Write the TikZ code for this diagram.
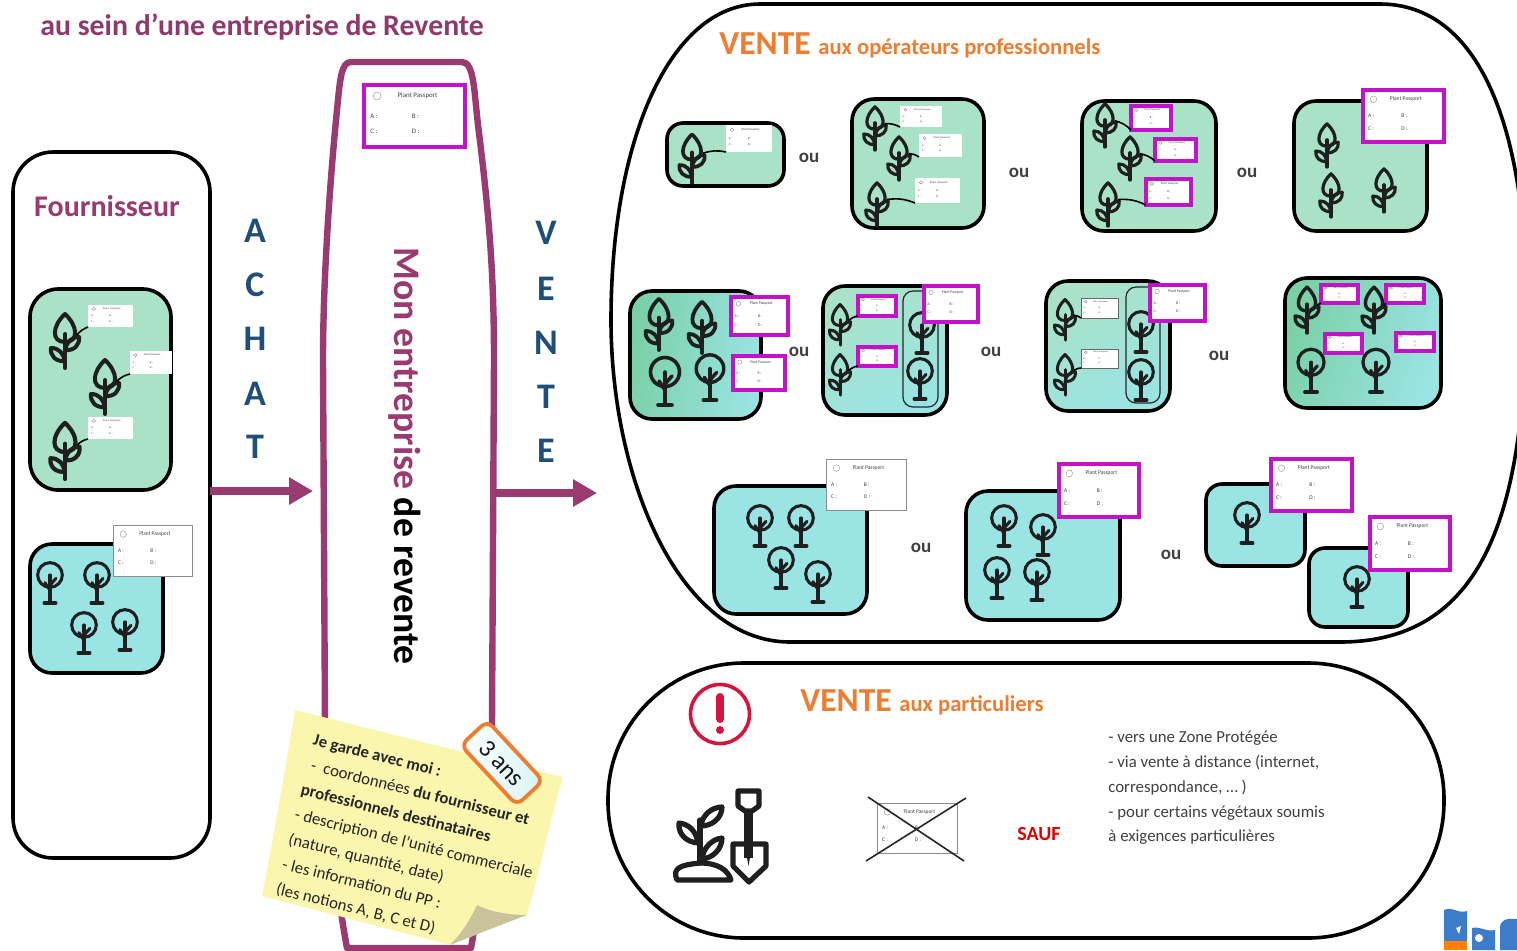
\documentclass[tikz,border=0pt]{standalone}
\usepackage{fontspec}
\setmainfont{Carlito}
\usetikzlibrary{arrows.meta,calc}
\definecolor{maroon}{HTML}{993A70}
\definecolor{titlered}{HTML}{8E3A6C}
\definecolor{achat}{HTML}{1F4E79}
\definecolor{ora}{HTML}{ED7D31}
\definecolor{gbox}{HTML}{A9E2C6}
\definecolor{tbox}{HTML}{9AE4E4}
\definecolor{dgreen}{HTML}{7AD0A6}
\definecolor{mag}{HTML}{C312C8}
\definecolor{postit}{HTML}{FBF6AE}
\definecolor{fold}{HTML}{C8C39B}
\definecolor{txt}{HTML}{404040}
\definecolor{crim}{HTML}{D7143C}
\definecolor{logob}{HTML}{3C7CCB}
\newcommand{\fsz}[2]{\fontsize{#1pt}{#2pt}\selectfont}
\tikzset{
  x=0.5pt,y=-0.5pt,
  blob/.style={draw=black,line width=1.8pt,fill=white},
  gb/.style={draw=black,line width=1.8pt,fill=gbox,rounded corners=11pt},
  tb/.style={draw=black,line width=1.8pt,fill=tbox,rounded corners=11pt},
  mixa/.style={draw=black,line width=1.8pt,rounded corners=11pt,top color=dgreen,bottom color=tbox,shading angle=80},
  mixb/.style={draw=black,line width=1.8pt,rounded corners=11pt,top color=gbox,bottom color=tbox,shading angle=30},
  mixc/.style={draw=black,line width=1.8pt,rounded corners=11pt,top color=dgreen,bottom color=tbox,shading angle=70},
  groupbox/.style={draw=black!85,line width=0.6pt,rounded corners=5pt},
  plaincard/.style={fill=white,inner sep=0,outer sep=0},
  greycard/.style={plaincard,draw=black!45,line width=.5pt},
  thincard/.style={plaincard,draw=black!60,line width=.4pt},
  magcard/.style={plaincard,draw=mag,line width=2.1pt},
  magsmall/.style={plaincard,draw=mag,line width=1.7pt},
  cardtxt/.style={transform shape,inner sep=0,text=txt,font=\fsz{3.4}{4}},
  twig/.style={draw=black,line width=.8pt},
  ouword/.style={text=txt,font=\fsz{9.5}{11}\bfseries,inner sep=0},
  letter/.style={text=achat,font=\fsz{18}{20}\bfseries,inner sep=0},
  bigarrow/.style={draw=maroon,line width=3.6pt,-{Triangle[length=12pt,width=13pt]}},
  listline/.style={text=txt,font=\fsz{8.4}{10},inner sep=0,anchor=west},
}
\newcommand{\mycard}[6]{%
  \pgfmathsetmacro{\cw}{#4-#2}\pgfmathsetmacro{\ch}{#5-#3}%
  \node[#6,minimum width=\cw*0.5pt,minimum height=\ch*0.5pt] (#1) at ({(#2+#4)/2},{(#3+#5)/2}) {};
  \begin{scope}[shift={(#1.north west)},xscale=\cw/100,yscale=\ch/62]
    \draw[black!45,line width=.2pt] (13,11) circle (4);
    \node[cardtxt] (#1t) at (53,11) {Plant Passport};
    \node[cardtxt,anchor=west] (#1a) at (6,31) {A :};
    \node[cardtxt,anchor=west] (#1b) at (47,31) {B :};
    \node[cardtxt,anchor=west] (#1c) at (6,46) {C :};
    \node[cardtxt,anchor=west] (#1d) at (47,46) {D :};
  \end{scope}}
\newcommand{\myplant}[4]{%
  \begin{scope}[shift={(#2,#3)},scale=#4,line width=#4*2pt,draw=black!88,line cap=round,line join=round]
    \draw (0,0) -- (0,-34);
    \draw (0,-26) .. controls (-14,-26) and (-13,-42) .. (0,-54) .. controls (13,-42) and (14,-26) .. (0,-26);
    \draw (0,-18) .. controls (2,-26) and (6,-31) .. (14,-31) .. controls (15,-23) and (9,-17) .. (0,-18);
    \draw (0,-7) .. controls (-2,-15) and (-6,-20) .. (-14,-20) .. controls (-15,-12) and (-9,-6) .. (0,-7);
    \coordinate (#1) at (12,-33);
  \end{scope}}
\newcommand{\mytree}[3]{%
  \begin{scope}[shift={(#1,#2)},scale=#3,line width=#3*1.8pt,draw=black!88,line cap=round,line join=round]
    \draw (0,-33) circle (14.5);
    \draw (-7,0) -- (7,0) (0,0) -- (0,-33);
    \draw (0,-21) -- (7,-29);
    \draw (0,-15) -- (-6,-24);
  \end{scope}}
\begin{document}
\begin{tikzpicture}
\useasboundingbox (0,0) rectangle (1517,950);
\fill[white] (0,0) rectangle (1517,950);

% title
\node[anchor=west,inner sep=0,text=titlered,font=\fsz{14.9}{16}\bfseries] (title) at (40,27) {au sein d’une entreprise de Revente};

% supplier column
\node[draw=black,line width=1.8pt,fill=white,rounded corners=20pt,minimum width=98.5pt,minimum height=353pt,inner sep=0,outer sep=0] (fournisseur) at (111.5,505) {};
\node[text=maroon,font=\fsz{15}{17}\bfseries,inner sep=0] (fournt) at (107,206) {Fournisseur};
\draw[gb,rounded corners=14pt] (30,289) rectangle (171,490);
\myplant{fa}{65}{368}{1}
\myplant{fb}{105}{414}{1}
\myplant{fc}{65}{479}{1.04}
\mycard{fca}{88}{305}{133}{327}{plaincard}
\mycard{fcb}{130}{351}{172}{374}{plaincard}
\mycard{fcc}{88}{417}{133}{439}{plaincard}
\draw[twig] (fa) to[bend left=15] (fca.south west);
\draw[twig] (fb) to[bend left=15] (fcb.south west);
\draw[twig] (fc) to[bend left=15] (fcc.south west);
\draw[tb] (30,544) rectangle (163,673);
\mytree{50}{603}{.85}
\mytree{97}{603}{.85}
\mytree{84}{653}{.85}
\mytree{125}{650}{.85}
\mycard{fcd}{113}{525}{192}{576}{greycard}

% company barrel
\path[draw=maroon,line width=3.2pt,line join=round] (351,62) -- (462,62) .. controls (474,62) and (474,90) .. (478,125) .. controls (490,220) and (494,280) .. (494,360) -- (492,725) .. controls (491,800) and (480,900) .. (471,948) -- (347,948) .. controls (338,900) and (325,800) .. (325,725) -- (323,360) .. controls (323,280) and (330,180) .. (337,110) .. controls (340,80) and (341,62) .. (351,62) -- cycle;
\node[minimum width=86pt,minimum height=443pt,inner sep=0,outer sep=0] (entreprise) at (409,505) {};
\node[rotate=-90,inner sep=0,font=\fsz{18.8}{20}\bfseries] (entt) at (405,456) {\textcolor{maroon}{Mon entreprise} de revente};
\mycard{eca}{364}{85}{465}{147}{magcard}

\foreach \n/\l/\yy in {a1/A/231,a2/C/285,a3/H/339,a4/A/394,a5/T/447}{\node[letter] (\n) at (255,\yy) {\l};}
\foreach \n/\l/\yy in {v1/V/233,v2/E/289,v3/N/343,v4/T/397,v5/E/451}{\node[letter] (\n) at (546,\yy) {\l};}
\coordinate (ventein) at (597,493);
\draw[bigarrow] (fournisseur.east |- 0,491) -- ([xshift=-5pt]entreprise.west |- 0,491);
\draw[bigarrow] (entreprise.east |- ventein) -- (ventein);

% note
\fill[postit] (295,710) -- (563,777) .. controls (550,820) and (540,870) .. (527,915) .. controls (500,925) and (475,935) .. (450,945) -- (262,896) .. controls (275,830) and (285,770) .. (295,710) -- cycle;
\fill[fold] (450,945) .. controls (465,930) and (472,915) .. (477,905) .. controls (490,912) and (510,915) .. (527,915) .. controls (500,925) and (475,935) .. (450,945) -- cycle;
\node[rotate=-14,anchor=north west,inner sep=0,align=left,text=black!85,font=\fsz{8.4}{12.8}] (notet) at (315,733) {%
  \textbf{Je garde avec moi :}\\
  \hspace*{2pt}-\ \ coordonnées \textbf{du fournisseur et}\\
  \textbf{professionnels destinataires}\\
  - description de l’unité commerciale\\
  (nature, quantité, date)\\
  - les information du PP :\\
  (les notions A, B, C et D)};
\node[rotate=-47,draw=ora,line width=1.9pt,left color=white,right color=tbox!40,rounded corners=4pt,minimum width=41pt,minimum height=18pt,inner sep=0,font=\fsz{12.5}{14},text=black!90] (ans) at (502,763) {3 ans};

% professional sales
\draw[blob,fill=none] (760,4) -- (1380,4) .. controls (1480,4) and (1526,130) .. (1526,300) .. controls (1526,500) and (1490,642) .. (1340,642) -- (790,642) .. controls (680,642) and (611,480) .. (611,320) .. controls (611,140) and (670,4) .. (760,4) -- cycle;
\node[anchor=base west,inner sep=0,text=ora,font=\bfseries] (vp) at (719,54) {\fsz{16.8}{18}VENTE \fsz{11.3}{12}aux opérateurs professionnels};

% row 1
\draw[gb,rounded corners=8pt] (667,123) rectangle (784,186);
\myplant{a1p}{692}{183}{.9}
\mycard{a1c}{726}{125}{772}{152}{plaincard}
\draw[twig] (a1p) to[bend left=15] (a1c.south west);
\node[ouword] (o1) at (809,158) {ou};

\draw[gb] (852,99) rectangle (984,228);
\myplant{b1}{875}{150}{.8}
\myplant{b2}{899}{180}{.8}
\myplant{b3}{877}{226}{.8}
\mycard{b1c}{900}{106}{942}{127}{plaincard}
\mycard{b2c}{919}{134}{962}{157}{plaincard}
\mycard{b3c}{915}{178}{960}{203}{plaincard}
\draw[twig] (b1) to[bend left=15] (b1c.south west);
\draw[twig] (b2) to[bend left=15] (b2c.south west);
\draw[twig] (b3) to[bend left=15] (b3c.south west);
\node[ouword] (o2) at (1019,173) {ou};

\draw[gb] (1082,101) rectangle (1216,231);
\myplant{c1}{1105}{147}{.8}
\myplant{c2}{1130}{180}{.8}
\myplant{c3}{1108}{226}{.8}
\mycard{c1c}{1131}{106}{1171}{130}{magsmall}
\mycard{c2c}{1155}{139}{1196}{161}{magsmall}
\mycard{c3c}{1146}{179}{1191}{205}{magsmall}
\draw[twig] (c1) to[bend left=15] (c1c.south west);
\draw[twig] (c2) to[bend left=15] (c2c.south west);
\draw[twig] (c3) to[bend left=15] (c3c.south west);
\node[ouword] (o3) at (1247,173) {ou};

\draw[gb] (1294,101) rectangle (1427,231);
\myplant{d1}{1327}{167}{.8}
\myplant{d2}{1331}{217}{.8}
\myplant{d3}{1384}{212}{.8}
\mycard{d1c}{1363}{90}{1444}{142}{magcard}

% row 2
\draw[mixa] (630,291) rectangle (761,419);
\myplant{e1}{659}{350}{.95}
\myplant{e2}{702}{353}{.95}
\mytree{665}{405}{1}
\mytree{710}{400}{.95}
\mycard{e1c}{731}{297}{788}{335}{magcard}
\mycard{e2c}{733}{356}{785}{390}{magcard}
\node[ouword] (o4) at (799,352) {ou};

\draw[mixb] (823,286) rectangle (947,415);
\myplant{g1}{840}{345}{.75}
\myplant{g2}{840}{395}{.75}
\draw[groupbox] (903,291) rectangle (938,407);
\mytree{922}{353}{.85}
\mytree{920}{399}{.85}
\mycard{g1c}{858}{296}{896}{316}{magsmall}
\mycard{g2c}{858}{347}{896}{366}{magsmall}
\mycard{g3c}{924}{286}{978}{322}{magcard}
\draw[twig] (g1) to[bend left=15] (g1c.south west);
\draw[twig] (g2) to[bend left=15] (g2c.south west);
\node[ouword] (o5) at (991,352) {ou};

\draw[mixb] (1046,281) rectangle (1170,411);
\myplant{h1}{1065}{340}{.75}
\myplant{h2}{1065}{395}{.75}
\draw[groupbox] (1126,287) rectangle (1160,403);
\mytree{1141}{352}{.85}
\mytree{1141}{400}{.85}
\mycard{h1c}{1081}{298}{1118}{318}{thincard}
\mycard{h2c}{1081}{349}{1118}{368}{thincard}
\mycard{h3c}{1150}{285}{1205}{321}{magcard}
\draw[twig] (h1) to[bend left=15] (h1c.south west);
\draw[twig] (h2) to[bend left=15] (h2c.south west);
\node[ouword] (o6) at (1219,356) {ou};

\draw[mixc] (1285,278) rectangle (1441,408);
\myplant{i1}{1307}{333}{.85}
\myplant{i2}{1374}{333}{.85}
\mytree{1311}{392}{.9}
\mytree{1376}{392}{.9}
\mycard{i1c}{1321}{285}{1358}{303}{magsmall}
\mycard{i2c}{1386}{285}{1424}{303}{magsmall}
\mycard{i3c}{1325}{334}{1362}{353}{magsmall}
\mycard{i4c}{1396}{333}{1434}{351}{magsmall}
\draw[twig] (i1) to[bend left=15] (i1c.south west);
\draw[twig] (i2) to[bend left=15] (i2c.south west);

% row 3
\draw[tb] (714,486) rectangle (867,614);
\mytree{760}{546}{.85}
\mytree{801}{546}{.85}
\mytree{781}{588}{.85}
\mytree{818}{602}{.85}
\mycard{j1c}{826}{459}{906}{510}{greycard}
\node[ouword] (o7) at (921,548) {ou};

\draw[tb] (966,491) rectangle (1120,620);
\mytree{1004}{546}{.85}
\mytree{1043}{555}{.85}
\mytree{997}{598}{.85}
\mytree{1037}{600}{.85}
\mycard{k1c}{1059}{464}{1139}{517}{magcard}
\node[ouword] (o8) at (1171,555) {ou};

\draw[tb,rounded corners=8pt] (1206,484) rectangle (1305,566);
\mytree{1247}{543}{.85}
\mycard{l1c}{1271}{459}{1352}{511}{magcard}
\draw[tb,rounded corners=8pt] (1309,548) rectangle (1408,627);
\mytree{1357}{607}{.85}
\mycard{l2c}{1370}{517}{1450}{570}{magcard}

% private sales
\draw[blob,fill=none,rounded corners=68pt] (608,663) rectangle (1444,938);
\node[anchor=base west,inner sep=0,text=ora,font=\bfseries] (vq) at (800,711) {\fsz{16.8}{18}VENTE \fsz{11.3}{12}aux particuliers};
\draw[crim,line width=1.8pt] (720,714) circle (29.5);
\draw[crim,line width=4pt,line cap=round] (720,697) -- (720,719);
\fill[crim] (720,730) circle (4);

% plant and spade icon
\begin{scope}[draw=black!88,line width=2.6pt,line join=round,line cap=round]
  \draw (677,880) .. controls (672,868) and (680,865) .. (700,863) .. controls (718,863) and (728,870) .. (731,880) -- cycle;
  \draw (700,863) -- (700,820);
  \draw (701,826) .. controls (702,815) and (712,807) .. (722,807) .. controls (722,818) and (712,826) .. (701,826);
  \draw (698,843) .. controls (696,830) and (688,824) .. (679,823) .. controls (678,834) and (686,842) .. (698,843);
  \draw (702,859) .. controls (703,848) and (712,839) .. (722,838) .. controls (722,849) and (713,858) .. (702,859);
  \draw[fill=white] (733,844) -- (766,844) -- (766,866) -- (749,882) -- (733,866) -- cycle;
  \draw[fill=white] (738,791) -- (759,791) -- (759,806) -- (752,811) -- (745,811) -- (738,806) -- cycle;
  \draw[line width=4.4pt,line cap=butt] (748.5,811) -- (748.5,858);
  \fill[black!88] (744,840) -- (753,840) -- (748.5,866) -- cycle;
\end{scope}
\fill[white] (744,800) rectangle (753,804);

% crossed card
\mycard{xc}{877}{803}{957}{853}{greycard}
\coordinate (xa) at (868,797);
\coordinate (xb) at (964,861);
\coordinate (xd) at (866,861);
\coordinate (xe) at (966,798);
\draw[black!85,line width=.8pt] (xa) -- (xb) (xd) -- (xe);
\node[text=red!90!black,font=\fsz{10}{12}\bfseries,inner sep=0] (sauf) at (1039,834) {SAUF};
\node[listline] (l1) at (1108,738) {- vers une Zone Protégée};
\node[listline] (l2) at (1108,763) {- via vente à distance (internet,};
\node[listline] (l3) at (1108,788) {correspondance, … )};
\node[listline] (l4) at (1108,813) {- pour certains végétaux soumis};
\node[listline] (l5) at (1108,837) {à exigences particulières};

% logo
\fill[logob] (1444,910) .. controls (1452,906) and (1458,914) .. (1467,911) -- (1467,942) -- (1444,942) -- cycle;
\fill[orange] (1444,941) rectangle (1467,950);
\fill[logob] (1472,928) .. controls (1480,926) and (1486,932) .. (1495,930) -- (1495,950) -- (1472,950) -- cycle;
\fill[white] (1479,938) circle (4);
\fill[logob] (1500,928) .. controls (1500,920) and (1506,918) .. (1517,919) -- (1517,950) -- (1500,950) -- cycle;
\fill[white] (1456,928) -- (1461,926) -- (1459,934) -- cycle;
\end{tikzpicture}
\end{document}
